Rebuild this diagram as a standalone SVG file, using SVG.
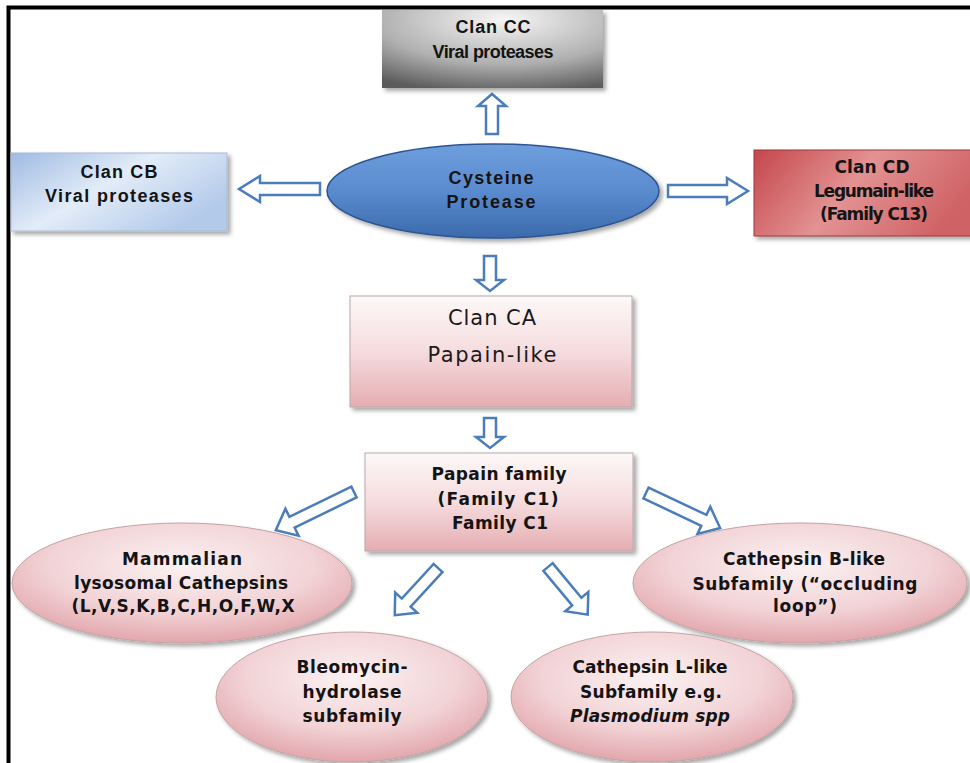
<svg xmlns="http://www.w3.org/2000/svg" width="970" height="763" viewBox="0 0 970 763">
<defs>
<filter id="sh" x="-10%" y="-10%" width="125%" height="130%">
<feDropShadow dx="3" dy="3" stdDeviation="2" flood-color="#000" flood-opacity="0.35"/>
</filter>
<radialGradient id="gCC" cx="55%" cy="12%" r="95%">
<stop offset="0" stop-color="#f6f6f6"/>
<stop offset="0.6" stop-color="#b0b0b0"/>
<stop offset="1" stop-color="#5c5c5c"/>
</radialGradient>
<linearGradient id="gCB" x1="0" y1="0" x2="1" y2="0.6">
<stop offset="0" stop-color="#9fbbe3"/>
<stop offset="0.5" stop-color="#e3ecf8"/>
<stop offset="1" stop-color="#b3caea"/>
</linearGradient>
<linearGradient id="gCD" x1="0" y1="0" x2="1" y2="0.3">
<stop offset="0" stop-color="#c4474b"/>
<stop offset="0.5" stop-color="#e39293"/>
<stop offset="1" stop-color="#cf6265"/>
</linearGradient>
<linearGradient id="gCys" x1="0" y1="0" x2="0" y2="1">
<stop offset="0" stop-color="#6e9edc"/>
<stop offset="0.5" stop-color="#5a8bcf"/>
<stop offset="1" stop-color="#3b6aab"/>
</linearGradient>
<linearGradient id="gPink" x1="0" y1="0" x2="0" y2="1">
<stop offset="0" stop-color="#fdf8f8"/>
<stop offset="0.5" stop-color="#f5dcde"/>
<stop offset="1" stop-color="#e5adb2"/>
</linearGradient>
<radialGradient id="gEll" cx="50%" cy="35%" r="65%">
<stop offset="0" stop-color="#fbf1f2"/>
<stop offset="0.6" stop-color="#f2d3d6"/>
<stop offset="1" stop-color="#e2a6ac"/>
</radialGradient>
</defs>
<style>
.arr{fill:#ffffff;stroke:#4a7dba;stroke-width:2.5;stroke-linejoin:miter}
.tA{font-family:"Liberation Sans",Arial,sans-serif;font-weight:bold;font-size:18px;fill:#141414;text-anchor:middle}
.tV{font-family:"DejaVu Sans",Verdana,sans-serif;font-weight:bold;font-size:17px;fill:#141414;text-anchor:middle}
.tR{font-family:"DejaVu Sans",Verdana,sans-serif;font-size:21px;fill:#1a1a1a;text-anchor:middle}
.box{filter:url(#sh)}
</style>
<rect x="0" y="0" width="970" height="763" fill="#ffffff"/>
<path d="M8.5,770 V7.5 H975" fill="none" stroke="#000" stroke-width="4"/>

<g id="connectors">
<path class="arr" transform="translate(492,134) rotate(-90)" d="M0,-6 H28 V-14 L40,0 L28,14 V6 H0 Z"/>
<path class="arr" transform="translate(320,189) rotate(180)" d="M0,-6 H60 V-13 L81,0 L60,13 V6 H0 Z"/>
<path class="arr" transform="translate(668,191)" d="M0,-6 H59 V-13 L80,0 L59,13 V6 H0 Z"/>
<path class="arr" transform="translate(490,256) rotate(90)" d="M0,-6 H24 V-14 L35,0 L24,14 V6 H0 Z"/>
<path class="arr" transform="translate(490,418) rotate(90)" d="M0,-6 H19 V-14 L30,0 L19,14 V6 H0 Z"/>
<path class="arr" transform="translate(354,492) rotate(154)" d="M0,-6 H69 V-15 L87,0 L69,15 V6 H0 Z"/>
<path class="arr" transform="translate(438,568) rotate(132.5)" d="M0,-6 H47 V-15 L64,0 L47,15 V6 H0 Z"/>
<path class="arr" transform="translate(548,567) rotate(50.2)" d="M0,-6 H45 V-15 L62,0 L45,15 V6 H0 Z"/>
<path class="arr" transform="translate(646,493) rotate(25.3)" d="M0,-6 H64 V-15 L82,0 L64,15 V6 H0 Z"/>
</g>

<g id="clan-cc">
<rect class="box" x="382" y="10" width="221" height="78" fill="url(#gCC)"/>
<text class="tA" x="493" y="33" font-size="16" textLength="75" lengthAdjust="spacing">Clan CC</text>
<text class="tA" x="493" y="58" font-size="16" textLength="121" lengthAdjust="spacing">Viral proteases</text>
</g>

<g id="clan-cb">
<rect class="box" x="11" y="153" width="216" height="78" fill="url(#gCB)" stroke="#a9bad3" stroke-width="1"/>
<text class="tA" x="119" y="178" font-size="19" textLength="77" lengthAdjust="spacing">Clan CB</text>
<text class="tA" x="119" y="202" font-size="19" textLength="148" lengthAdjust="spacing">Viral proteases</text>
</g>

<g id="cysteine">
<ellipse cx="493" cy="191" rx="166" ry="47" fill="url(#gCys)" stroke="#2c5590" stroke-width="1.5" filter="url(#sh)"/>
<text class="tA" x="491" y="184" fill="#1c2b4c" textLength="85" lengthAdjust="spacing">Cysteine</text>
<text class="tA" x="491" y="208" fill="#1c2b4c" textLength="89" lengthAdjust="spacing">Protease</text>
</g>

<g id="clan-cd">
<rect class="box" x="754" y="150" width="230" height="86" fill="url(#gCD)" stroke="#9b3a3a" stroke-width="1"/>
<text class="tV" x="872" y="173" font-size="15" fill="#3a1414" textLength="75" lengthAdjust="spacing">Clan CD</text>
<text class="tV" x="874" y="197" font-size="15" fill="#3a1414" textLength="120" lengthAdjust="spacing">Legumain-like</text>
<text class="tV" x="874" y="220" font-size="15" fill="#3a1414" textLength="108" lengthAdjust="spacing">(Family C13)</text>
</g>

<g id="clan-ca">
<rect class="box" x="350" y="296" width="282" height="111" fill="url(#gPink)" stroke="#b9a7a8" stroke-width="1"/>
<text class="tR" x="492" y="325" textLength="88" lengthAdjust="spacing">Clan CA</text>
<text class="tR" x="492" y="362" textLength="129" lengthAdjust="spacing">Papain-like</text>
</g>

<g id="papain-family">
<rect class="box" x="365" y="453" width="268" height="98" fill="url(#gPink)" stroke="#b9a7a8" stroke-width="1"/>
<text class="tV" x="499" y="480" textLength="135" lengthAdjust="spacing">Papain family</text>
<text class="tV" x="498" y="505" textLength="121" lengthAdjust="spacing">(Family C1)</text>
<text class="tV" x="500" y="529" textLength="96" lengthAdjust="spacing">Family C1</text>
</g>

<g id="mammalian">
<ellipse cx="182" cy="583" rx="170" ry="60" fill="url(#gEll)" stroke="#c0a4a6" stroke-width="1" filter="url(#sh)"/>
<text class="tV" x="182" y="565" textLength="120" lengthAdjust="spacing">Mammalian</text>
<text class="tV" x="181" y="589" textLength="214" lengthAdjust="spacing">lysosomal Cathepsins</text>
<text class="tV" x="183" y="612" textLength="223" lengthAdjust="spacing">(L,V,S,K,B,C,H,O,F,W,X</text>
</g>

<g id="bleomycin">
<ellipse cx="352" cy="697" rx="136" ry="65" fill="url(#gEll)" stroke="#c0a4a6" stroke-width="1" filter="url(#sh)"/>
<text class="tV" x="352" y="673" textLength="111" lengthAdjust="spacing">Bleomycin-</text>
<text class="tV" x="352" y="698" textLength="99" lengthAdjust="spacing">hydrolase</text>
<text class="tV" x="352" y="722" textLength="99" lengthAdjust="spacing">subfamily</text>
</g>

<g id="cathepsin-b">
<ellipse cx="800" cy="583" rx="167" ry="60" fill="url(#gEll)" stroke="#c0a4a6" stroke-width="1" filter="url(#sh)"/>
<text class="tV" x="804" y="565" textLength="162" lengthAdjust="spacing">Cathepsin B-like</text>
<text class="tV" x="805" y="590" textLength="225" lengthAdjust="spacing">Subfamily  (“occluding</text>
<text class="tV" x="805" y="612" textLength="64" lengthAdjust="spacing">loop”)</text>
</g>

<g id="cathepsin-l">
<ellipse cx="652" cy="697" rx="141" ry="65" fill="url(#gEll)" stroke="#c0a4a6" stroke-width="1" filter="url(#sh)"/>
<text class="tV" x="650" y="673" textLength="155" lengthAdjust="spacing">Cathepsin L-like</text>
<text class="tV" x="651" y="698" textLength="142" lengthAdjust="spacing">Subfamily e.g.</text>
<text class="tV" x="650" y="722" font-style="italic" textLength="160" lengthAdjust="spacing">Plasmodium spp</text>
</g>
</svg>
